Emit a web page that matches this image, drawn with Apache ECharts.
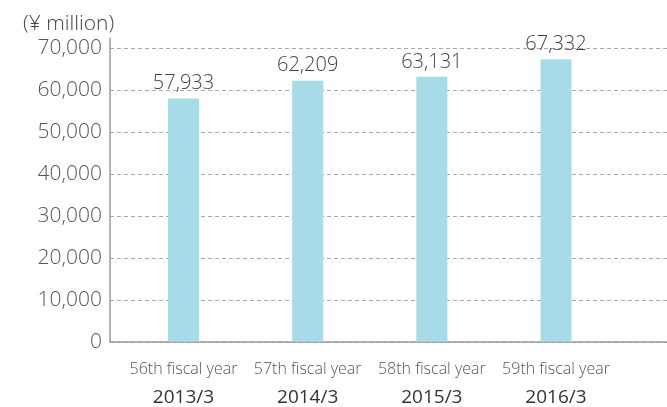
<!DOCTYPE html>
<html><head><meta charset="utf-8">
<script src="https://cdn.jsdelivr.net/npm/echarts@6/dist/echarts.min.js"></script>
<style>html,body{margin:0;padding:0;background:#fff}#c{width:667px;height:407px}</style>
</head><body><div id="c"></div>
<script>
const fiscalLabels = ['56th fiscal year', '57th fiscal year', '58th fiscal year', '59th fiscal year'];
const periods = ['2013/3', '2014/3', '2015/3', '2016/3'];
const values = [57933, 62209, 63131, 67332];
const yTicks = [0, 10000, 20000, 30000, 40000, 50000, 60000, 70000];

const font = '"Open Sans", Roboto, sans-serif';
const chart = echarts.init(document.getElementById('c'), null, {renderer: 'canvas'});
const fmt = v => v.toLocaleString('en-US');
chart.setOption({
  animation: false,
  textStyle: {fontFamily: font},
  title: {text: '(¥ million)', left: 18, top: 9, textStyle: {fontFamily: font, fontSize: 21, fontWeight: 300, color: '#444'}},
  grid: [
    {left: 121.4, right: 48.9, top: 48, bottom: 65},
    {left: 110, right: 0, top: 48, bottom: 65},
    {left: 110, right: 0, top: 38, bottom: 65}
  ],
  xAxis: [
    {gridIndex: 0, type: 'category', data: fiscalLabels,
      axisLine: {show: false}, axisTick: {show: false},
      axisLabel: {margin: 14, interval: 0,
        formatter: (v, i) => '{a|' + v + '}\n{b|' + periods[i] + '}',
        rich: {
          a: {fontFamily: font, fontSize: 16, fontWeight: 300, color: '#555', lineHeight: 28},
          b: {fontFamily: font, fontSize: 19, fontWeight: 400, color: '#333', lineHeight: 28}
        }}},
    {gridIndex: 1, type: 'category', data: fiscalLabels, axisLine: {show: true, lineStyle: {color: '#9a9a9a', width: 1.5}},
      axisTick: {show: false}, axisLabel: {show: false}},
    {gridIndex: 2, type: 'category', data: fiscalLabels, show: false}
  ],
  yAxis: [
    {gridIndex: 0, type: 'value', min: 0, max: 70000, interval: 10000, show: false},
    {gridIndex: 1, type: 'value', min: 0, max: 70000, interval: 10000,
      axisLine: {show: false}, axisTick: {show: false},
      axisLabel: {margin: 8, fontFamily: font, fontSize: 21, fontWeight: 300, color: '#555',
        formatter: v => yTicks.includes(v) ? fmt(v) : ''},
      splitLine: {show: true, lineStyle: {color: '#aaa', type: [4, 3], width: 1}}},
    {gridIndex: 2, type: 'value', min: 0, max: 72500,
      axisLine: {show: true, lineStyle: {color: '#9a9a9a', width: 1.5}},
      axisTick: {show: false}, axisLabel: {show: false}, splitLine: {show: false}}
  ],
  series: [{
    type: 'bar', xAxisIndex: 0, yAxisIndex: 0, data: values, barWidth: 31,
    itemStyle: {color: '#a8dbe8'},
    label: {show: true, position: 'top', distance: 5, formatter: p => fmt(p.value),
      fontFamily: font, fontSize: 20, fontWeight: 300, color: '#444'}
  }]
});
</script></body></html>
